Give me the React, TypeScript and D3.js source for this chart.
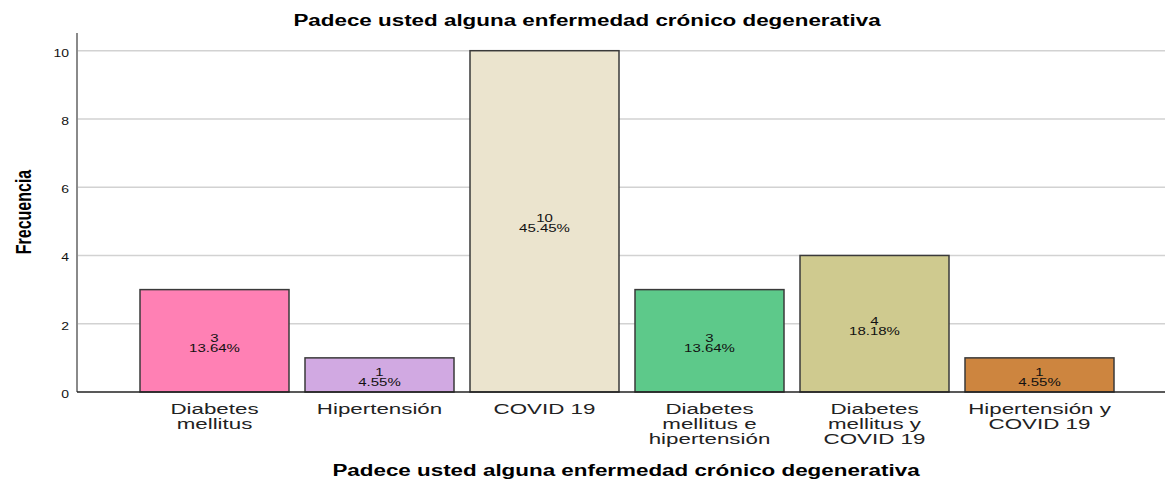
import React from "react";
import * as d3 from "d3";

const categories: string[][] = [
  ["Diabetes", "mellitus"],
  ["Hipertensión"],
  ["COVID 19"],
  ["Diabetes", "mellitus e", "hipertensión"],
  ["Diabetes", "mellitus y", "COVID 19"],
  ["Hipertensión y", "COVID 19"],
];
const counts: number[] = [3, 1, 10, 3, 4, 1];
const percents: string[] = ["13.64%", "4.55%", "45.45%", "13.64%", "18.18%", "4.55%"];
const colors: string[] = ["#FF80B4", "#D1A9E2", "#EBE4CE", "#5DC98A", "#CFCA8F", "#CD853F"];
const yTicks: number[] = [0, 2, 4, 6, 8, 10];
const title = "Padece usted alguna enfermedad crónico degenerativa";
const yTitle = "Frecuencia";

const W = 1165;
const H = 481;
const SX = 1.4;
const FONT = "Arial, 'Liberation Sans', Helvetica, sans-serif";

export default function App() {
  const x = d3
    .scaleBand<number>()
    .domain(d3.range(categories.length))
    .range([140, 1114])
    .paddingInner(16 / 165)
    .paddingOuter(0);
  const y = d3.scaleLinear().domain([0, 10]).range([392, 50.7]);
  const axisX = 77;
  const rightX = W;

  const st = (tx: number, ty: number, s: number = SX) => `translate(${tx},${ty}) scale(${s},1)`;

  return (
    <svg
      width={W}
      height={H}
      style={{ position: "absolute", left: 0, top: 0, background: "#fff" }}
      fontFamily={FONT}
    >
      <rect x={0} y={0} width={W} height={H} fill="#fff" />
      {yTicks
        .filter((t) => t > 0)
        .map((t) => (
          <line key={"g" + t} x1={axisX} x2={rightX} y1={y(t)} y2={y(t)} stroke="#d2d2d2" strokeWidth={1.5} />
        ))}
      {yTicks.map((t) => (
        <text key={"t" + t} transform={st(69, y(t) + 6)} textAnchor="end" fontSize={10} fill="#111">
          {t}
        </text>
      ))}
      {counts.map((c, i) => {
        const bx = x(i)!;
        const by = y(c);
        const bh = y(0) - by;
        const cx = bx + x.bandwidth() / 2;
        const cy = by + bh / 2;
        return (
          <g key={"b" + i}>
            <rect x={bx} y={by} width={x.bandwidth()} height={bh} fill={colors[i]} stroke="#3a3a3a" strokeWidth={1.5} />
            <text transform={st(cx, cy + 1, 1.5)} textAnchor="middle" fontSize={10} fill="#111">
              {c}
            </text>
            <text transform={st(cx, cy + 11, 1.5)} textAnchor="middle" fontSize={10} fill="#111">
              {percents[i]}
            </text>
          </g>
        );
      })}
      <line x1={axisX} x2={axisX} y1={33} y2={392} stroke="#8a8a8a" strokeWidth={2} />
      <line x1={axisX} x2={rightX} y1={392} y2={392} stroke="#222" strokeWidth={1.5} />
      {categories.map((lines, i) => {
        const cx = x(i)! + x.bandwidth() / 2;
        return lines.map((ln, j) => (
          <text key={"c" + i + "-" + j} transform={st(cx, 414 + j * 14.8, 1.49)} textAnchor="middle" fontSize={15} fill="#222">
            {ln}
          </text>
        ));
      })}
      <text transform={st(587, 26)} textAnchor="middle" fontSize={16} fontWeight="bold" fill="#000">
        {title}
      </text>
      <text transform={st(626, 476)} textAnchor="middle" fontSize={16} fontWeight="bold" fill="#000">
        {title}
      </text>
      <text
        transform={`translate(31,212) scale(${SX},1) rotate(-90)`}
        textAnchor="middle"
        fontSize={16}
        fontWeight="bold"
        fill="#000"
      >
        {yTitle}
      </text>
    </svg>
  );
}
